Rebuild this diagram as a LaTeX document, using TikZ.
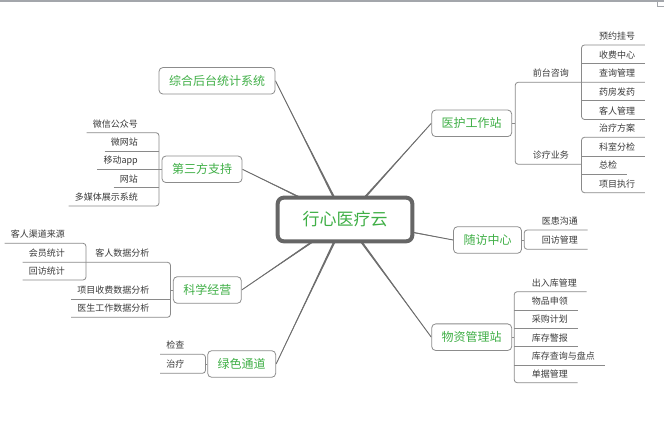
\documentclass[tikz,border=0pt]{standalone}
\usepackage{fontspec}
\newfontfamily\cjk{Noto Sans CJK SC}
\usetikzlibrary{calc,backgrounds}
\definecolor{tgreen}{HTML}{3FAF46}
\definecolor{leafc}{HTML}{3A3A3A}
\definecolor{linec}{HTML}{8A8A8A}
\definecolor{boxc}{HTML}{8C8C8C}
\definecolor{rootc}{HTML}{666666}
\definecolor{trunkc}{HTML}{6E6E6E}
\definecolor{barc}{HTML}{A3A6AB}
\tikzset{
 branch/.style={draw=boxc, line width=0.8pt, rounded corners=4pt, fill=white, text=tgreen,
   font=\cjk\fontsize{12}{12}\selectfont, inner xsep=10pt, inner ysep=0pt, minimum height=26.6pt},
 rootbox/.style={draw=rootc, line width=4pt, rounded corners=6pt, fill=white, text=tgreen,
   font=\cjk\fontsize{17}{17}\selectfont, minimum width=134.6pt, minimum height=43.6pt},
 leaf/.style={text=leafc, font=\cjk\fontsize{9}{9}\selectfont, inner sep=0pt, text height=7.9pt, text depth=1.1pt},
 uline/.style={draw=linec, line width=0.8pt},
 spine/.style={uline, rounded corners=3pt},
 trunk/.style={draw=trunkc, line width=0.9pt},
 trunkfill/.style={fill=trunkc},
 bar/.style={draw=barc},
}
\newcommand\lleaf[3]{\node[leaf,anchor=east] (#1) at (#2) {#3};
  \coordinate (#1l) at ($(#1.west)+(-6,8.7)$);
  \coordinate (#1r) at ($(#1.east)+(21,8.7)$);}
\newcommand\rleaf[3]{\node[leaf,anchor=west] (#1) at (#2) {#3};
  \coordinate (#1l) at ($(#1.west)+(-17.5,8.7)$);
  \coordinate (#1r) at ($(#1.east)+(9.5,8.7)$);}
\newcommand\trunkto[1]{\fill[trunkfill] (#1) -- ($(root.center)!1.3pt!90:(#1)$) -- ($(root.center)!1.3pt!-90:(#1)$) -- cycle;
  \draw[trunk] (root.center) -- (#1);}
\begin{document}
\begin{tikzpicture}[x=1pt,y=-1pt]
\useasboundingbox (0,0) rectangle (664,435);
% window frame remnants
\draw[bar, line width=1.7pt] (0,0.85) -- (664,0.85);
\draw[bar, line width=0.8pt] (657.3,1.7) -- (657.3,6) -- (664,6);

% root and branches
\node[rootbox] (root) at (345,219.5) {行心医疗云};
\node[branch] (p1) at (217,80.8) {综合后台统计系统};
\node[branch] (p2) at (202,169.3) {第三方支持};
\node[branch] (p3) at (207.3,290) {科学经营};
\node[branch] (p4) at (241.7,364) {绿色通道};
\node[branch] (p5) at (471.7,123.3) {医护工作站};
\node[branch] (p6) at (487.5,240) {随访中心};
\node[branch] (p7) at (471.7,337.2) {物资管理站};

\begin{pgfonlayer}{background}
\fill[white] (0,0) rectangle (664,435);
\trunkto{p1.east}
\trunkto{p2.east}
\trunkto{p3.east}
\trunkto{p4.east}
\trunkto{p5.west}
\trunkto{p6.west}
\trunkto{p7.west}
\end{pgfonlayer}

% 第三方支持
\lleaf{a1}{138,124}{微信公众号}
\lleaf{a2}{138,142.3}{微网站}
\lleaf{a3}{138,160.6}{移动app}
\lleaf{a4}{138,178.9}{网站}
\lleaf{a5}{138,197.3}{多媒体展示系统}
\draw[spine] (a1l) -- (a1r) -- (a5r) -- (a5l);
\draw[uline] (a2l) -- (a2r);
\draw[uline] (a4l) -- (a4r);
\draw[uline] (a3l) -- (p2.west);

% 科学经营
\lleaf{b1}{149.5,253.6}{客人数据分析}
\lleaf{b2}{149.5,290.6}{项目收费数据分析}
\lleaf{b3}{149.5,308.6}{医生工作数据分析}
\lleaf{c1}{65,234.6}{客人渠道来源}
\lleaf{c2}{65,253.6}{会员统计}
\lleaf{c3}{65,271.3}{回访统计}
\draw[spine] (c1l) -- (c1r) -- (c3r) -- (c3l);
\draw[spine] (c2l) -- (b1r) -- (b3r) -- (b3l);
\draw[uline] (b2l) -- (b2r);
\draw[uline] (p3.west) -- (p3.west -| b1r);

% 绿色通道
\lleaf{d1}{184.5,345.6}{检查}
\lleaf{d2}{184.5,364.6}{治疗}
\draw[spine] (d1l) -- (d1r) -- (d2r) -- (d2l);
\draw[uline] (p4.west) -- (p4.west -| d1r);

% 医护工作站
\rleaf{e1}{532.7,73.6}{前台咨询}
\rleaf{e2}{532.7,155.6}{诊疗业务}
\rleaf{f1}{599,36.3}{预约挂号}
\rleaf{f2}{599,55}{收费中心}
\rleaf{f3}{599,73.6}{查询管理}
\rleaf{f4}{599,92.2}{药房发药}
\rleaf{f5}{599,110.8}{客人管理}
\rleaf{g1}{599,128.6}{治疗方案}
\rleaf{g2}{599,147.3}{科室分检}
\rleaf{g3}{599,165.3}{总检}
\rleaf{g4}{599,184}{项目执行}
\draw[spine] (f3r) -- (e1l) -- (e2l) -- (e2l -| g1l);
\draw[uline] (p5.east) -- (p5.east -| e1l);
\draw[spine] (f1r) -- (f1l) -- (f5l) -- (f5r);
\draw[uline] (f2l) -- (f2r);
\draw[uline] (f4l) -- (f4r);
\draw[spine] (g1r) -- (g1l) -- (g4l) -- (g4r);
\draw[uline] (g2l) -- (g2r);
\draw[uline] (g3l) -- (g3r);

% 随访中心
\rleaf{h1}{541.7,221.3}{医患沟通}
\rleaf{h2}{541.7,240.6}{回访管理}
\draw[spine] (h1r) -- (h1l) -- (h2l) -- (h2r);
\draw[uline] (p6.east) -- (p6.east -| h1l);

% 物资管理站
\rleaf{k1}{531.7,283}{出入库管理}
\rleaf{k2}{531.7,301.3}{物品申领}
\rleaf{k3}{531.7,319.6}{采购计划}
\rleaf{k4}{531.7,338}{库存警报}
\rleaf{k5}{531.7,356.6}{库存查询与盘点}
\rleaf{k6}{531.7,374}{单据管理}
\draw[spine] (k1r) -- (k1l) -- (k6l) -- (k6r);
\draw[uline] (k2l) -- (k2r);
\draw[uline] (k3l) -- (k3r);
\draw[uline] (k4l) -- (k4r);
\draw[uline] (k5l) -- (k5r);
\draw[uline] (p7.east) -- (p7.east -| k1l);
\end{tikzpicture}
\end{document}
